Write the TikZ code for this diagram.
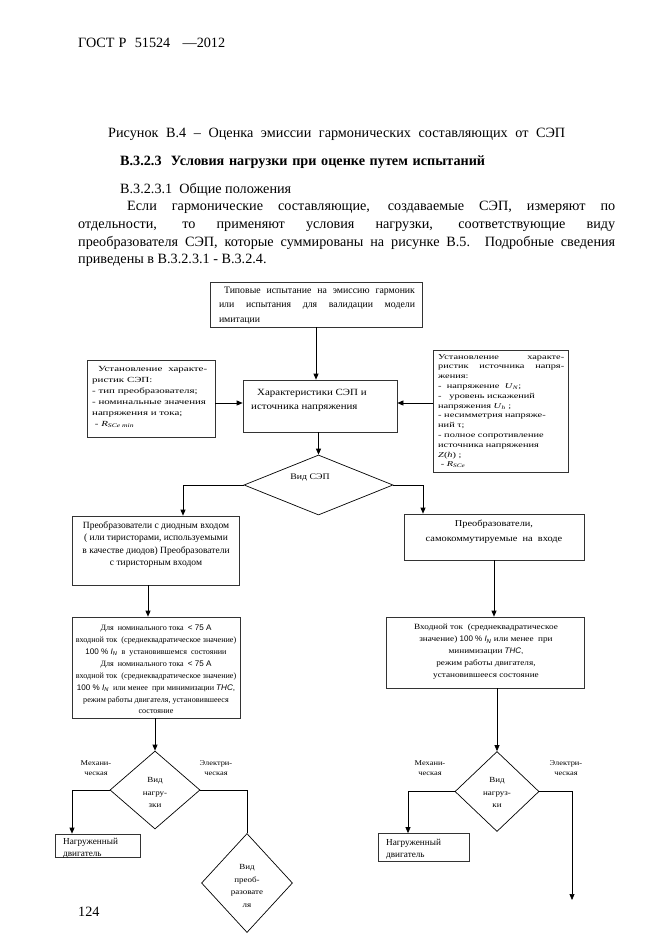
\documentclass[tikz,border=0pt]{standalone}
\usepackage{fontspec}
\setmainfont{Liberation Serif}
\newfontfamily\sfnt{Liberation Sans}
\newfontfamily\wideS[FakeStretch=1.15]{Liberation Serif}
\newfontfamily\wideA[FakeStretch=1.4]{Liberation Serif}
\newfontfamily\wideB[FakeStretch=1.38]{Liberation Serif}
\usetikzlibrary{arrows.meta,shapes.geometric}
\newcommand\jline[2]{\makebox[#1][s]{#2}}
\newcommand\sub[1]{\textsubscript{\textit{#1}}}
\begin{document}
\begin{tikzpicture}[x=1pt,y=-1pt,
  box/.style={draw=black!80,line width=0.7pt,inner sep=0pt},
  dia/.style={draw=black,line width=0.7pt,diamond,inner sep=0pt,aspect=1},
  txt/.style={inner sep=0pt},
  body/.style={inner sep=0pt,anchor=base west,font=\fontsize{14.2}{16}\selectfont},
  arr/.style={line width=0.7pt,-{Triangle[length=6pt,width=5pt]}},
  ln/.style={line width=0.7pt}]
\useasboundingbox (0,0) rectangle (661,935);
\fill[white] (0,0) rectangle (661,935);

% page text
\node[body] (hdr) at (78,47) {\jline{147pt}{ГОСТ Р\ \ 51524\ \ \ —2012}};
\node[body] (cap) at (108,137) {\jline{457pt}{Рисунок В.4 – Оценка эмиссии гармонических составляющих от СЭП}};
\node[body,font=\fontsize{14.2}{16}\selectfont\bfseries] (hd) at (120,165) {\jline{365pt}{В.3.2.3\ \ Условия нагрузки при оценке путем испытаний}};
\node[body] (sh) at (120,193) {В.3.2.3.1\ \ Общие положения};
\node[body] (p1) at (127,210) {\jline{488pt}{Если гармонические составляющие, создаваемые СЭП, измеряют по}};
\node[body] (p2) at (78,228) {\jline{537pt}{отдельности, то применяют условия нагрузки, соответствующие виду}};
\node[body] (p3) at (78,246) {\jline{537pt}{преобразователя СЭП, которые суммированы на рисунке В.5. Подробные сведения}};
\node[body] (p4) at (78,263) {приведены в В.3.2.3.1 - В.3.2.4.};
\node[body] (pg) at (78,916) {124};

% boxes
\node[box,minimum width=212pt,minimum height=45pt] (b1) at (316,304.5) {};
\node[txt,align=left,font=\fontsize{9.8}{14.5}\selectfont] (t1) at (317,305.5)
  {\jline{196pt}{\hspace*{5pt}Типовые испытание на эмиссию гармоник}\\
   \jline{196pt}{или испытания для валидации модели}\\
   \makebox[196pt][l]{имитации}};

\node[box,minimum width=154pt,minimum height=52pt] (b2) at (320,406) {};
\node[txt,anchor=west,align=left,font=\wideS\fontsize{9.5}{14}\selectfont] (t2) at (251,400)
  {\hspace*{6pt}Характеристики СЭП и\\источника напряжения};

\node[box,minimum width=128pt,minimum height=77pt] (bl) at (151,398.5) {};
\node[txt,anchor=west,align=left,font=\wideA\fontsize{7.8}{11}\selectfont] (tl) at (92,396.5)
  {\jline{115pt}{\hspace*{6pt}Установление характе-}\\
   ристик СЭП:\\
   - тип преобразователя;\\
   - номинальные значения\\
   напряжения и тока;\\
   \ - \textit{R}\sub{SCe min}};

\node[box,minimum width=135pt,minimum height=122pt] (br) at (500.5,411) {};
\node[txt,anchor=west,align=left,font=\wideB\fontsize{7.5}{9.8}\selectfont] (tr) at (438,411)
  {\jline{126pt}{Установление\hfill характе-}\\
   \jline{126pt}{ристик источника напря-}\\
   жения:\\
   - \ напряжение \ \textit{U}\sub{N};\\
   - \ \ уровень искажений\\
   напряжения \textit{U}\sub{h} ;\\
   - несимметрия напряже-\\
   ний τ;\\
   - полное сопротивление\\
   источника напряжения\\
   \textit{Z}(\textit{h}) ;\\
   \ - \textit{R}\sub{SCe}};

\node[dia,minimum width=149pt,minimum height=60pt] (d1) at (318.5,485) {};
\node[txt,font=\wideS\fontsize{8.5}{10}\selectfont] (td1) at (310,478) {Вид СЭП};

\node[box,minimum width=167pt,minimum height=69pt] (b3) at (155.5,550.5) {};
\node[txt,align=center,font=\fontsize{9.5}{12.5}\selectfont] (t3) at (156,544.5)
  {Преобразователи с диодным входом\\
   ( или тиристорами, используемыми\\
   в качестве диодов) Преобразователи\\
   с тиристорным входом};

\node[box,minimum width=180pt,minimum height=46pt] (b4) at (494,537) {};
\node[txt,align=center,font=\wideS\fontsize{9}{15}\selectfont] (t4) at (494,531.5)
  {Преобразователи,\\самокоммутируемые\ \ на\ \ входе};

\node[box,minimum width=168pt,minimum height=101pt] (b5) at (156,667.5) {};
\node[txt,align=center,font=\fontsize{8.1}{11.9}\selectfont] (t5) at (156,669.5)
  {Для\ \ номинального тока\ \ {\sfnt < 75 А}\\
   входной ток\ \ (среднеквадратическое значение)\\
   {\sfnt 100 \% \textit{I}\sub{N}}\ \ в\ \ установившемся\ \ состоянии\\
   Для\ \ номинального тока\ \ {\sfnt < 75 А}\\
   входной ток\ \ (среднеквадратическое значение)\\
   {\sfnt 100 \% \textit{I}\sub{N}}\ \ или менее\ \ при минимизации {\sfnt\textit{THC},}\\
   режим работы двигателя, установившееся\\
   состояние};

\node[box,minimum width=198pt,minimum height=71pt] (b6) at (485,652.5) {};
\node[txt,align=center,font=\wideS\fontsize{8}{12}\selectfont] (t6) at (486,652)
  {Входной ток\ \ (среднеквадратическое\\
   значение) {\sfnt 100 \% \textit{I}\sub{N}} или менее\ \ при\\
   минимизации {\sfnt\textit{THC},}\\
   режим работы двигателя,\\
   установившееся состояние};

% left lower branch
\node[dia,minimum width=90pt,minimum height=78pt] (d2) at (155,790) {};
\node[txt,align=center,font=\wideS\fontsize{7.8}{12.5}\selectfont] (td2) at (155,792.5) {Вид\\нагру-\\зки};
\node[txt,align=center,font=\wideS\fontsize{7.3}{10}\selectfont] (m2) at (96,768) {Механи-\\ческая};
\node[txt,align=center,font=\wideS\fontsize{7.3}{10}\selectfont] (e2) at (216,768) {Электри-\\ческая};
\node[box,minimum width=85pt,minimum height=23pt] (b7) at (97.5,845.5) {};
\node[txt,anchor=west,align=left,font=\fontsize{9.2}{12.5}\selectfont] (t7) at (63,848) {Нагруженный\\двигатель};
\node[dia,minimum width=91pt,minimum height=99pt] (d3) at (247,883) {};
\node[txt,align=center,font=\wideS\fontsize{7.8}{12.5}\selectfont] (td3) at (247,886) {Вид\\преоб-\\разовате\\ля};

% right lower branch
\node[dia,minimum width=84pt,minimum height=80pt] (d4) at (497,791.5) {};
\node[txt,align=center,font=\wideS\fontsize{7.8}{12.5}\selectfont] (td4) at (497,792.5) {Вид\\нагруз-\\ки};
\node[txt,align=center,font=\wideS\fontsize{7.3}{10}\selectfont] (m4) at (430,768) {Механи-\\ческая};
\node[txt,align=center,font=\wideS\fontsize{7.3}{10}\selectfont] (e4) at (566,768) {Электри-\\ческая};
\node[box,minimum width=91pt,minimum height=28pt] (b8) at (423.5,847.5) {};
\node[txt,anchor=west,align=left,font=\fontsize{9.2}{12.5}\selectfont] (t8) at (386,849) {Нагруженный\\двигатель};
\coordinate (endR) at (572,900);

% connectors
\coordinate (hy) at (0,403);
\coordinate (x3) at (183,0);
\coordinate (x4) at (423,0);
\coordinate (x35) at (148,0);
\coordinate (x7) at (72,0);
\coordinate (x8) at (408,0);
\draw[arr] (b1.south) -- (b1.south |- b2.north);
\draw[arr] (bl.east |- hy) -- (b2.west |- hy);
\draw[arr] (br.west |- hy) -- (b2.east |- hy);
\draw[arr] (d1.north |- b2.south) -- (d1.north);
\draw[arr] (d1.west) -| (x3 |- b3.north);
\draw[arr] (d1.east) -| (x4 |- b4.north);
\draw[arr] (x35 |- b3.south) -- (x35 |- b5.north);
\draw[arr] (b4.south) -- (b4.south |- b6.north);
\draw[arr] (d2.north |- b5.south) -- (d2.north);
\draw[arr] (d4.north |- b6.south) -- (d4.north);
\draw[arr] (d2.west) -| (x7 |- b7.north);
\draw[ln] (d2.east) -| (d3.north);
\draw[arr] (d4.west) -| (x8 |- b8.north);
\draw[arr] (d4.east) -| (endR);
\end{tikzpicture}
\end{document}
